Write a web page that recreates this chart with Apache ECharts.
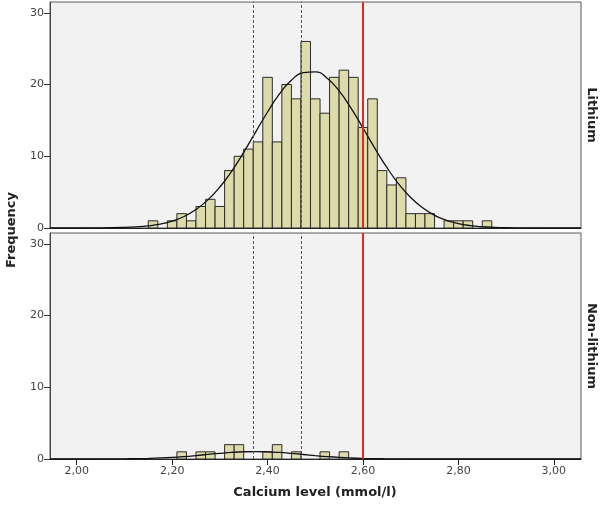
<!DOCTYPE html>
<html>
<head>
<meta charset="utf-8">
<script src="https://cdn.jsdelivr.net/npm/echarts@6/dist/echarts.min.js"></script>
<style>html,body{margin:0;padding:0;background:#fff}#c{width:600px;height:510px}</style>
</head>
<body>
<div id="c"></div>
<script>
// ---- data ----
const binWidth = 0.02;
const lithiumBins = [2.16,2.18,2.20,2.22,2.24,2.26,2.28,2.30,2.32,2.34,2.36,2.38,2.40,2.42,2.44,2.46,2.48,2.50,2.52,2.54,2.56,2.58,2.60,2.62,2.64,2.66,2.68,2.70,2.72,2.74,2.76,2.78,2.80,2.82,2.84,2.86];
const lithiumCounts = [1,0,1,2,1,3,4,3,8,10,11,12,21,12,20,18,26,18,16,21,22,21,14,18,8,6,7,2,2,2,0,1,1,1,0,1];
const nonLithiumBins = [2.22,2.26,2.28,2.32,2.34,2.40,2.42,2.46,2.52,2.56];
const nonLithiumCounts = [1,1,1,2,2,1,2,1,1,1];
const curveX = [1.944,2.00,2.05,2.10,2.125,2.15,2.175,2.20,2.225,2.25,2.275,2.30,2.325,2.35,2.375,2.40,2.425,2.45,2.475,2.50,2.525,2.55,2.575,2.60,2.625,2.65,2.675,2.70,2.725,2.75,2.775,2.80,2.825,2.85,2.875,2.90,2.95,3.00,3.057];
const lithiumCurve = [0,0.003,0.016,0.077,0.155,0.298,0.547,0.96,1.608,2.57,3.92,5.71,7.94,10.55,13.37,16.17,18.68,20.59,21.67,21.77,20.88,19.11,16.7,13.94,11.1,8.44,6.12,4.24,2.81,1.77,1.07,0.615,0.338,0.177,0.089,0.042,0.008,0.001,0];
const nonLithiumCurve = [0,0.001,0.005,0.024,0.047,0.085,0.144,0.229,0.343,0.482,0.637,0.791,0.922,1.01,1.04,1.005,0.913,0.779,0.625,0.47,0.333,0.221,0.138,0.081,0.045,0.023,0.011,0.005,0.002,0.001,0,0,0,0,0,0,0,0,0];
const xTicks = [2.0,2.2,2.4,2.6,2.8,3.0];
const yTicks = [0,10,20,30];
const refDashed = [2.37,2.47];
const refRed = 2.60;
const panelNames = ['Lithium','Non-lithium'];
const xTitle = 'Calcium level (mmol/l)';
const yTitle = 'Frequency';

// ---- chart ----
const FONT = 'DejaVu Sans';
const chart = echarts.init(document.getElementById('c'), null, {renderer:'canvas'});
const grids = [
  {left:50, top:2, width:531, height:226, show:true, backgroundColor:'#f2f2f2', borderColor:'#5a5a5a', borderWidth:1},
  {left:50, top:233, width:531, height:226, show:true, backgroundColor:'#f2f2f2', borderColor:'#5a5a5a', borderWidth:1}
];
function xAxis(i, labels){
  return {type:'value', gridIndex:i, min:1.944, max:3.057,
    axisLine:{show:true, onZero:false, lineStyle:{color:'#222', width:1}},
    axisTick:{show:labels, customValues:xTicks, length:6, lineStyle:{color:'#222'}},
    axisLabel:{show:labels, customValues:xTicks, margin:7, color:'#444', fontFamily:FONT, fontSize:11,
      formatter:v=>v.toFixed(2).replace('.',',')},
    splitLine:{show:false}};
}
function yAxis(i){
  return {type:'value', gridIndex:i, min:0, max:31.5,
    axisLine:{show:true, lineStyle:{color:'#444'}},
    axisTick:{show:true, customValues:yTicks, length:6, lineStyle:{color:'#333'}},
    axisLabel:{show:true, customValues:yTicks, margin:6, color:'#444', fontFamily:FONT, fontSize:11},
    splitLine:{show:false}};
}
function histSeries(i, bins, counts){
  return {type:'custom', xAxisIndex:i, yAxisIndex:i,
    data: bins.map((b,k)=>[b, counts[k]]),
    renderItem:function(params, api){
      const c = api.value(0), n = api.value(1);
      if(!n) return null;
      const p0 = api.coord([c-binWidth/2, n]);
      const p1 = api.coord([c+binWidth/2, 0]);
      return {type:'rect', shape:{x:p0[0], y:p0[1], width:p1[0]-p0[0], height:p1[1]-p0[1]},
        style:{fill:'#dedbab', stroke:'#2a2a2a', lineWidth:1}};
    }, z:2};
}
function curveSeries(i, ys){
  return {type:'line', xAxisIndex:i, yAxisIndex:i, data: curveX.map((x,k)=>[x, ys[k]]),
    smooth:0.5, symbol:'none', lineStyle:{color:'#111', width:1.3}, z:4,
    markLine:{silent:true, symbol:'none', label:{show:false}, animation:false,
      data:[
        ...refDashed.map(v=>({xAxis:v, lineStyle:{color:'#555', type:[3,2], width:1}})),
        {xAxis:refRed, lineStyle:{color:'#e8281f', type:'solid', width:2}}
      ]}};
}
chart.setOption({
  animation:false,
  grid: grids,
  xAxis:[xAxis(0,false), xAxis(1,true)],
  yAxis:[yAxis(0), yAxis(1)],
  series:[
    histSeries(0, lithiumBins, lithiumCounts),
    histSeries(1, nonLithiumBins, nonLithiumCounts),
    curveSeries(0, lithiumCurve),
    curveSeries(1, nonLithiumCurve)
  ],
  graphic:[
    {type:'text', x:12, y:230, rotation:Math.PI/2,
      style:{text:yTitle, fontFamily:FONT, fontWeight:'bold', fontSize:13, fill:'#222', align:'center', verticalAlign:'middle'}},
    {type:'text', x:315, y:493,
      style:{text:xTitle, fontFamily:FONT, fontWeight:'bold', fontSize:13, fill:'#222', align:'center', verticalAlign:'middle'}},
    {type:'text', x:591, y:115, rotation:-Math.PI/2,
      style:{text:panelNames[0], fontFamily:FONT, fontWeight:'bold', fontSize:13, fill:'#222', align:'center', verticalAlign:'middle'}},
    {type:'text', x:591, y:346, rotation:-Math.PI/2,
      style:{text:panelNames[1], fontFamily:FONT, fontWeight:'bold', fontSize:13, fill:'#222', align:'center', verticalAlign:'middle'}}
  ]
});
</script>
</body>
</html>
